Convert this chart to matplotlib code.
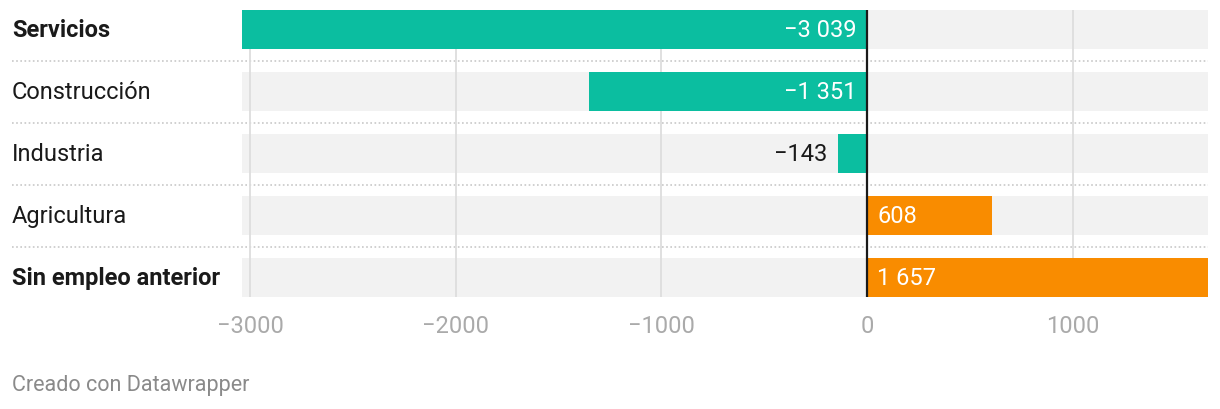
import matplotlib
matplotlib.use("Agg")
import matplotlib.pyplot as plt
from matplotlib.transforms import blended_transform_factory

# datos
categorias = ["Servicios", "Construcción", "Industria", "Agricultura", "Sin empleo anterior"]
valores = [-3039, -1351, -143, 608, 1657]
negritas = [True, False, False, False, True]
ticks = [-3000, -2000, -1000, 0, 1000]
tick_labels = ["−3000", "−2000", "−1000", "0", "1000"]

plt.rcParams['font.family'] = ['Roboto', 'DejaVu Sans']

W, H = 1220, 410
fig = plt.figure(figsize=(W / 100, H / 100), dpi=100)
ax = fig.add_axes([242 / W, (H - 298) / H, (1208 - 242) / W, 287 / H])

alto = 39 / 62
xmin, xmax = min(valores), max(valores)
ys = list(range(len(categorias)))

# bandas grises de fondo
ax.barh(ys, [xmax - xmin] * len(ys), left=xmin, height=alto, color="#f2f2f2", zorder=1)

# rejilla
for t in ticks:
    if t != 0:
        ax.axvline(t, color="#dddddd", lw=1.3, zorder=2)

# barras
colores = ["#0bbea0" if v < 0 else "#f98c00" for v in valores]
ax.barh(ys, valores, height=alto, color=colores, zorder=3)
ax.axvline(0, color="#1a1a1a", lw=1.6, zorder=4)


def fmt(v):
    s = f"{abs(v):,}".replace(",", " ")
    return ("−" if v < 0 else "") + s


for y, v in zip(ys, valores):
    dentro = abs(v) > 300
    if v < 0:
        if dentro:
            ax.text(-50, y, fmt(v), ha="right", va="center", color="white", fontsize=17, zorder=5)
        else:
            ax.text(v - 50, y, fmt(v), ha="right", va="center", color="#1a1a1a", fontsize=17, zorder=5)
    else:
        ax.text(50, y, fmt(v), ha="left", va="center", color="white", fontsize=17, zorder=5)

# separadores punteados
tr = blended_transform_factory(fig.transFigure, ax.transData)
for y in ys[:-1]:
    ax.plot([12 / W, 1208 / W], [y + 0.5, y + 0.5], transform=tr, color="#c8c8c8",
            lw=1.2, ls=(0, (1, 1.5)), clip_on=False, zorder=0)

# etiquetas de categoria
for y, c, b in zip(ys, categorias, negritas):
    ax.text(12 / W, y, c, transform=tr, ha="left", va="center", fontsize=17,
            color="#1a1a1a", fontweight="bold" if b else "normal")

ax.set_xlim(xmin, xmax)
ax.set_ylim(len(ys) - 1 + 0.5 * alto, -0.5 * alto)
ax.set_yticks([])
ax.set_xticks(ticks)
ax.set_xticklabels(tick_labels)
ax.tick_params(axis="x", length=0, pad=12, labelsize=17, labelcolor="#aaaaaa")
for s in ax.spines.values():
    s.set_visible(False)

fig.text(12 / W, 1 - 386 / H, "Creado con Datawrapper", ha="left", va="center",
         fontsize=15.5, color="#8a8a8a")

fig.savefig("out.png", dpi=100)
